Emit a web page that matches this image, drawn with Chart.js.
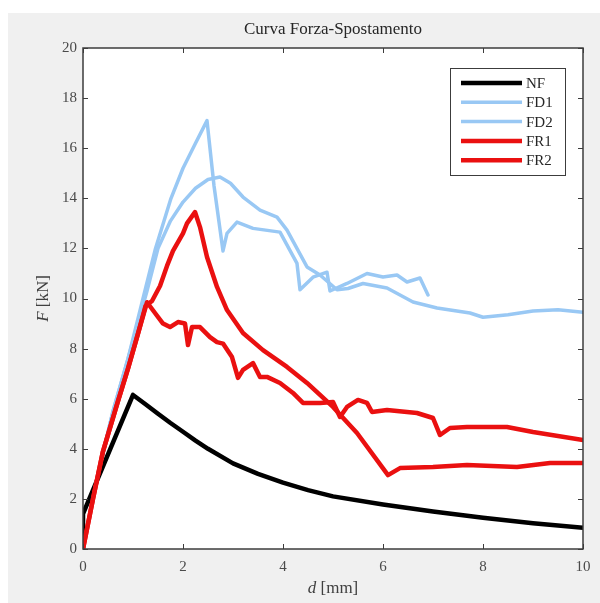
<!DOCTYPE html>
<html>
<head>
<meta charset="utf-8">
<script src="https://cdn.jsdelivr.net/npm/chart.js@4"></script>
<style>
  html, body { margin: 0; padding: 0; background: #ffffff; }
  canvas { display: block; }
</style>
</head>
<body>
<canvas id="chart" width="600" height="603"></canvas>
<script>
// Series data: displacement d [mm] and force F [kN]
const nfD  = [0, 0, 1.0, 1.25, 1.5, 1.75, 2.0, 2.25, 2.5, 3, 3.5, 4, 4.5, 5, 6, 7, 8, 9, 10];
const nfF  = [0, 1.4, 6.15, 5.78, 5.4, 5.03, 4.68, 4.33, 4.0, 3.42, 3.0, 2.65, 2.35, 2.1, 1.78, 1.5, 1.25, 1.03, 0.85];

const fd1D = [0, 0.3, 0.6, 0.9, 1.2, 1.45, 1.76, 2.0, 2.25, 2.48, 2.62, 2.8, 2.88, 3.08, 3.4, 3.94, 4.28, 4.34, 4.6, 4.88, 4.94, 5.28, 5.68, 6.0, 6.28, 6.48, 6.74, 6.9];
const fd1F = [0, 3.0, 5.5, 7.6, 10.0, 12.0, 14.0, 15.2, 16.2, 17.1, 14.5, 11.9, 12.6, 13.05, 12.8, 12.65, 11.4, 10.35, 10.85, 11.05, 10.3, 10.6, 11.0, 10.86, 10.94, 10.66, 10.82, 10.14];

const fd2D = [0, 0.3, 0.6, 0.9, 1.28, 1.5, 1.75, 2.0, 2.25, 2.5, 2.74, 2.95, 3.2, 3.54, 3.88, 4.08, 4.48, 4.74, 5.08, 5.3, 5.6, 6.08, 6.6, 7.08, 7.74, 8.0, 8.5, 9.0, 9.5, 10];
const fd2F = [0, 3.0, 5.5, 7.6, 10.3, 12.0, 13.1, 13.85, 14.4, 14.75, 14.85, 14.6, 14.05, 13.53, 13.25, 12.73, 11.26, 10.94, 10.35, 10.4, 10.6, 10.42, 9.86, 9.62, 9.42, 9.25, 9.35, 9.5, 9.55, 9.45];

const fr1D = [0, 0.2, 0.4, 0.7, 0.9, 1.1, 1.25, 1.38, 1.54, 1.68, 1.8, 2.0, 2.08, 2.24, 2.34, 2.48, 2.68, 2.88, 3.2, 3.6, 4.08, 4.48, 5.0, 5.48, 6.1, 6.34, 7.0, 7.68, 8.68, 9.34, 10];
const fr1F = [0, 2.0, 3.9, 5.9, 7.2, 8.6, 9.7, 9.9, 10.5, 11.3, 11.9, 12.6, 13.0, 13.45, 12.85, 11.66, 10.46, 9.54, 8.62, 7.94, 7.27, 6.63, 5.67, 4.63, 2.95, 3.23, 3.27, 3.35, 3.27, 3.43, 3.43];

const fr2D = [0, 0.2, 0.4, 0.7, 0.9, 1.1, 1.28, 1.44, 1.6, 1.74, 1.9, 2.04, 2.1, 2.18, 2.34, 2.54, 2.68, 2.8, 2.98, 3.1, 3.2, 3.4, 3.54, 3.68, 3.94, 4.2, 4.4, 4.74, 5.0, 5.14, 5.28, 5.5, 5.68, 5.78, 6.08, 6.68, 7.0, 7.14, 7.34, 7.68, 8.48, 9.0, 10];
const fr2F = [0, 2.0, 3.9, 5.9, 7.2, 8.6, 9.85, 9.42, 9.0, 8.86, 9.06, 9.0, 8.14, 8.86, 8.86, 8.46, 8.26, 8.2, 7.66, 6.83, 7.15, 7.42, 6.87, 6.87, 6.63, 6.23, 5.83, 5.83, 5.87, 5.27, 5.67, 5.95, 5.83, 5.47, 5.55, 5.43, 5.23, 4.55, 4.83, 4.87, 4.87, 4.67, 4.35];

const seriesNames = ["NF", "FD1", "FD2", "FR1", "FR2"];
const xTicks = [0, 2, 4, 6, 8, 10];
const yTicks = [0, 2, 4, 6, 8, 10, 12, 14, 16, 18, 20];

const BLACK = "#000000";
const BLUE = "#99c8f4";
const RED = "#ea1010";
const SERIF = "'Liberation Serif', 'DejaVu Serif', serif";

function pts(xs, ys) {
  return xs.map((x, i) => ({ x: x, y: ys[i] }));
}

const datasets = [
  { label: seriesNames[0], data: pts(nfD, nfF), borderColor: BLACK, borderWidth: 4.5, order: 5 },
  { label: seriesNames[1], data: pts(fd1D, fd1F), borderColor: BLUE, borderWidth: 3.5, order: 4 },
  { label: seriesNames[2], data: pts(fd2D, fd2F), borderColor: BLUE, borderWidth: 3.5, order: 3 },
  { label: seriesNames[3], data: pts(fr1D, fr1F), borderColor: RED, borderWidth: 4.5, order: 2 },
  { label: seriesNames[4], data: pts(fr2D, fr2F), borderColor: RED, borderWidth: 4.5, order: 1 }
];
datasets.forEach(ds => {
  ds.pointRadius = 0;
  ds.tension = 0;
  ds.fill = false;
  ds.borderJoinStyle = "round";
  ds.borderCapStyle = "round";
});

// Gray figure background, white axes box, frame, inward ticks, title, labels, legend
const matlabLook = {
  id: "matlabLook",
  beforeDraw(chart) {
    const ctx = chart.ctx;
    const a = chart.chartArea;
    ctx.save();
    ctx.fillStyle = "#f0f0f0";
    ctx.fillRect(8, 13, chart.width - 8, chart.height - 13);
    ctx.fillStyle = "#ffffff";
    ctx.fillRect(a.left, a.top, a.right - a.left, a.bottom - a.top);
    ctx.restore();
  },
  afterDraw(chart) {
    const ctx = chart.ctx;
    const a = chart.chartArea;
    const xs = chart.scales.x, ys = chart.scales.y;
    ctx.save();

    // frame
    ctx.strokeStyle = "#3c3c3c";
    ctx.lineWidth = 1.5;
    ctx.strokeRect(a.left, a.top, a.right - a.left, a.bottom - a.top);

    // inward ticks on all four sides
    ctx.lineWidth = 1;
    const tl = 5;
    ctx.beginPath();
    xTicks.forEach(v => {
      const px = Math.round(xs.getPixelForValue(v)) + 0.5;
      ctx.moveTo(px, a.bottom); ctx.lineTo(px, a.bottom - tl);
      ctx.moveTo(px, a.top); ctx.lineTo(px, a.top + tl);
    });
    yTicks.forEach(v => {
      const py = Math.round(ys.getPixelForValue(v)) + 0.5;
      ctx.moveTo(a.left, py); ctx.lineTo(a.left + tl, py);
      ctx.moveTo(a.right, py); ctx.lineTo(a.right - tl, py);
    });
    ctx.stroke();

    // title
    const cx = (a.left + a.right) / 2;
    ctx.fillStyle = "#262626";
    ctx.font = "17px " + SERIF;
    ctx.textAlign = "center";
    ctx.textBaseline = "middle";
    ctx.fillText("Curva Forza-Spostamento", cx, 30);

    // axis titles with italic symbol
    function mixed(sym, rest, x, y) {
      ctx.font = "italic 17px " + SERIF;
      const w1 = ctx.measureText(sym).width;
      ctx.font = "17px " + SERIF;
      const w2 = ctx.measureText(rest).width;
      let start = x - (w1 + w2) / 2;
      ctx.textAlign = "left";
      ctx.font = "italic 17px " + SERIF;
      ctx.fillText(sym, start, y);
      ctx.font = "17px " + SERIF;
      ctx.fillText(rest, start + w1, y);
    }
    ctx.fillStyle = "#404040";
    mixed("d", " [mm]", cx, 589);
    ctx.save();
    ctx.translate(44, (a.top + a.bottom) / 2);
    ctx.rotate(-Math.PI / 2);
    mixed("F", " [kN]", 0, 0);
    ctx.restore();

    // legend box
    const lx = 450, ly = 68, lw = 115, lh = 107;
    ctx.fillStyle = "#ffffff";
    ctx.fillRect(lx, ly, lw, lh);
    ctx.strokeStyle = "#3c3c3c";
    ctx.lineWidth = 1;
    ctx.strokeRect(lx + 0.5, ly + 0.5, lw, lh);
    chart.data.datasets.forEach((ds, i) => {
      const y = 83 + i * 19.3;
      ctx.strokeStyle = ds.borderColor;
      ctx.lineWidth = ds.borderWidth;
      ctx.lineCap = "butt";
      ctx.beginPath();
      ctx.moveTo(461, y); ctx.lineTo(522, y);
      ctx.stroke();
      ctx.fillStyle = "#262626";
      ctx.font = "15px " + SERIF;
      ctx.textAlign = "left";
      ctx.textBaseline = "middle";
      ctx.fillText(ds.label, 526, y + 1);
    });
    ctx.restore();
  }
};

new Chart(document.getElementById("chart"), {
  type: "line",
  data: { datasets: datasets },
  options: {
    responsive: false,
    animation: false,
    layout: { padding: { left: 0, right: 17, top: 48, bottom: 0 } },
    plugins: { legend: { display: false }, tooltip: { enabled: false }, title: { display: false } },
    scales: {
      x: {
        type: "linear",
        min: 0, max: 10,
        afterFit: s => { s.height = 54; },
        afterBuildTicks: s => { s.ticks = xTicks.map(v => ({ value: v })); },
        grid: { display: false, drawTicks: false },
        border: { display: false },
        ticks: { padding: 9, color: "#4a4a4a", font: { family: SERIF, size: 15 }, maxRotation: 0 }
      },
      y: {
        type: "linear",
        min: 0, max: 20,
        afterFit: s => { s.width = 83; },
        afterBuildTicks: s => { s.ticks = yTicks.map(v => ({ value: v })); },
        grid: { display: false, drawTicks: false },
        border: { display: false },
        ticks: { padding: 6, color: "#4a4a4a", font: { family: SERIF, size: 15 } }
      }
    }
  },
  plugins: [matlabLook]
});
</script>
</body>
</html>
